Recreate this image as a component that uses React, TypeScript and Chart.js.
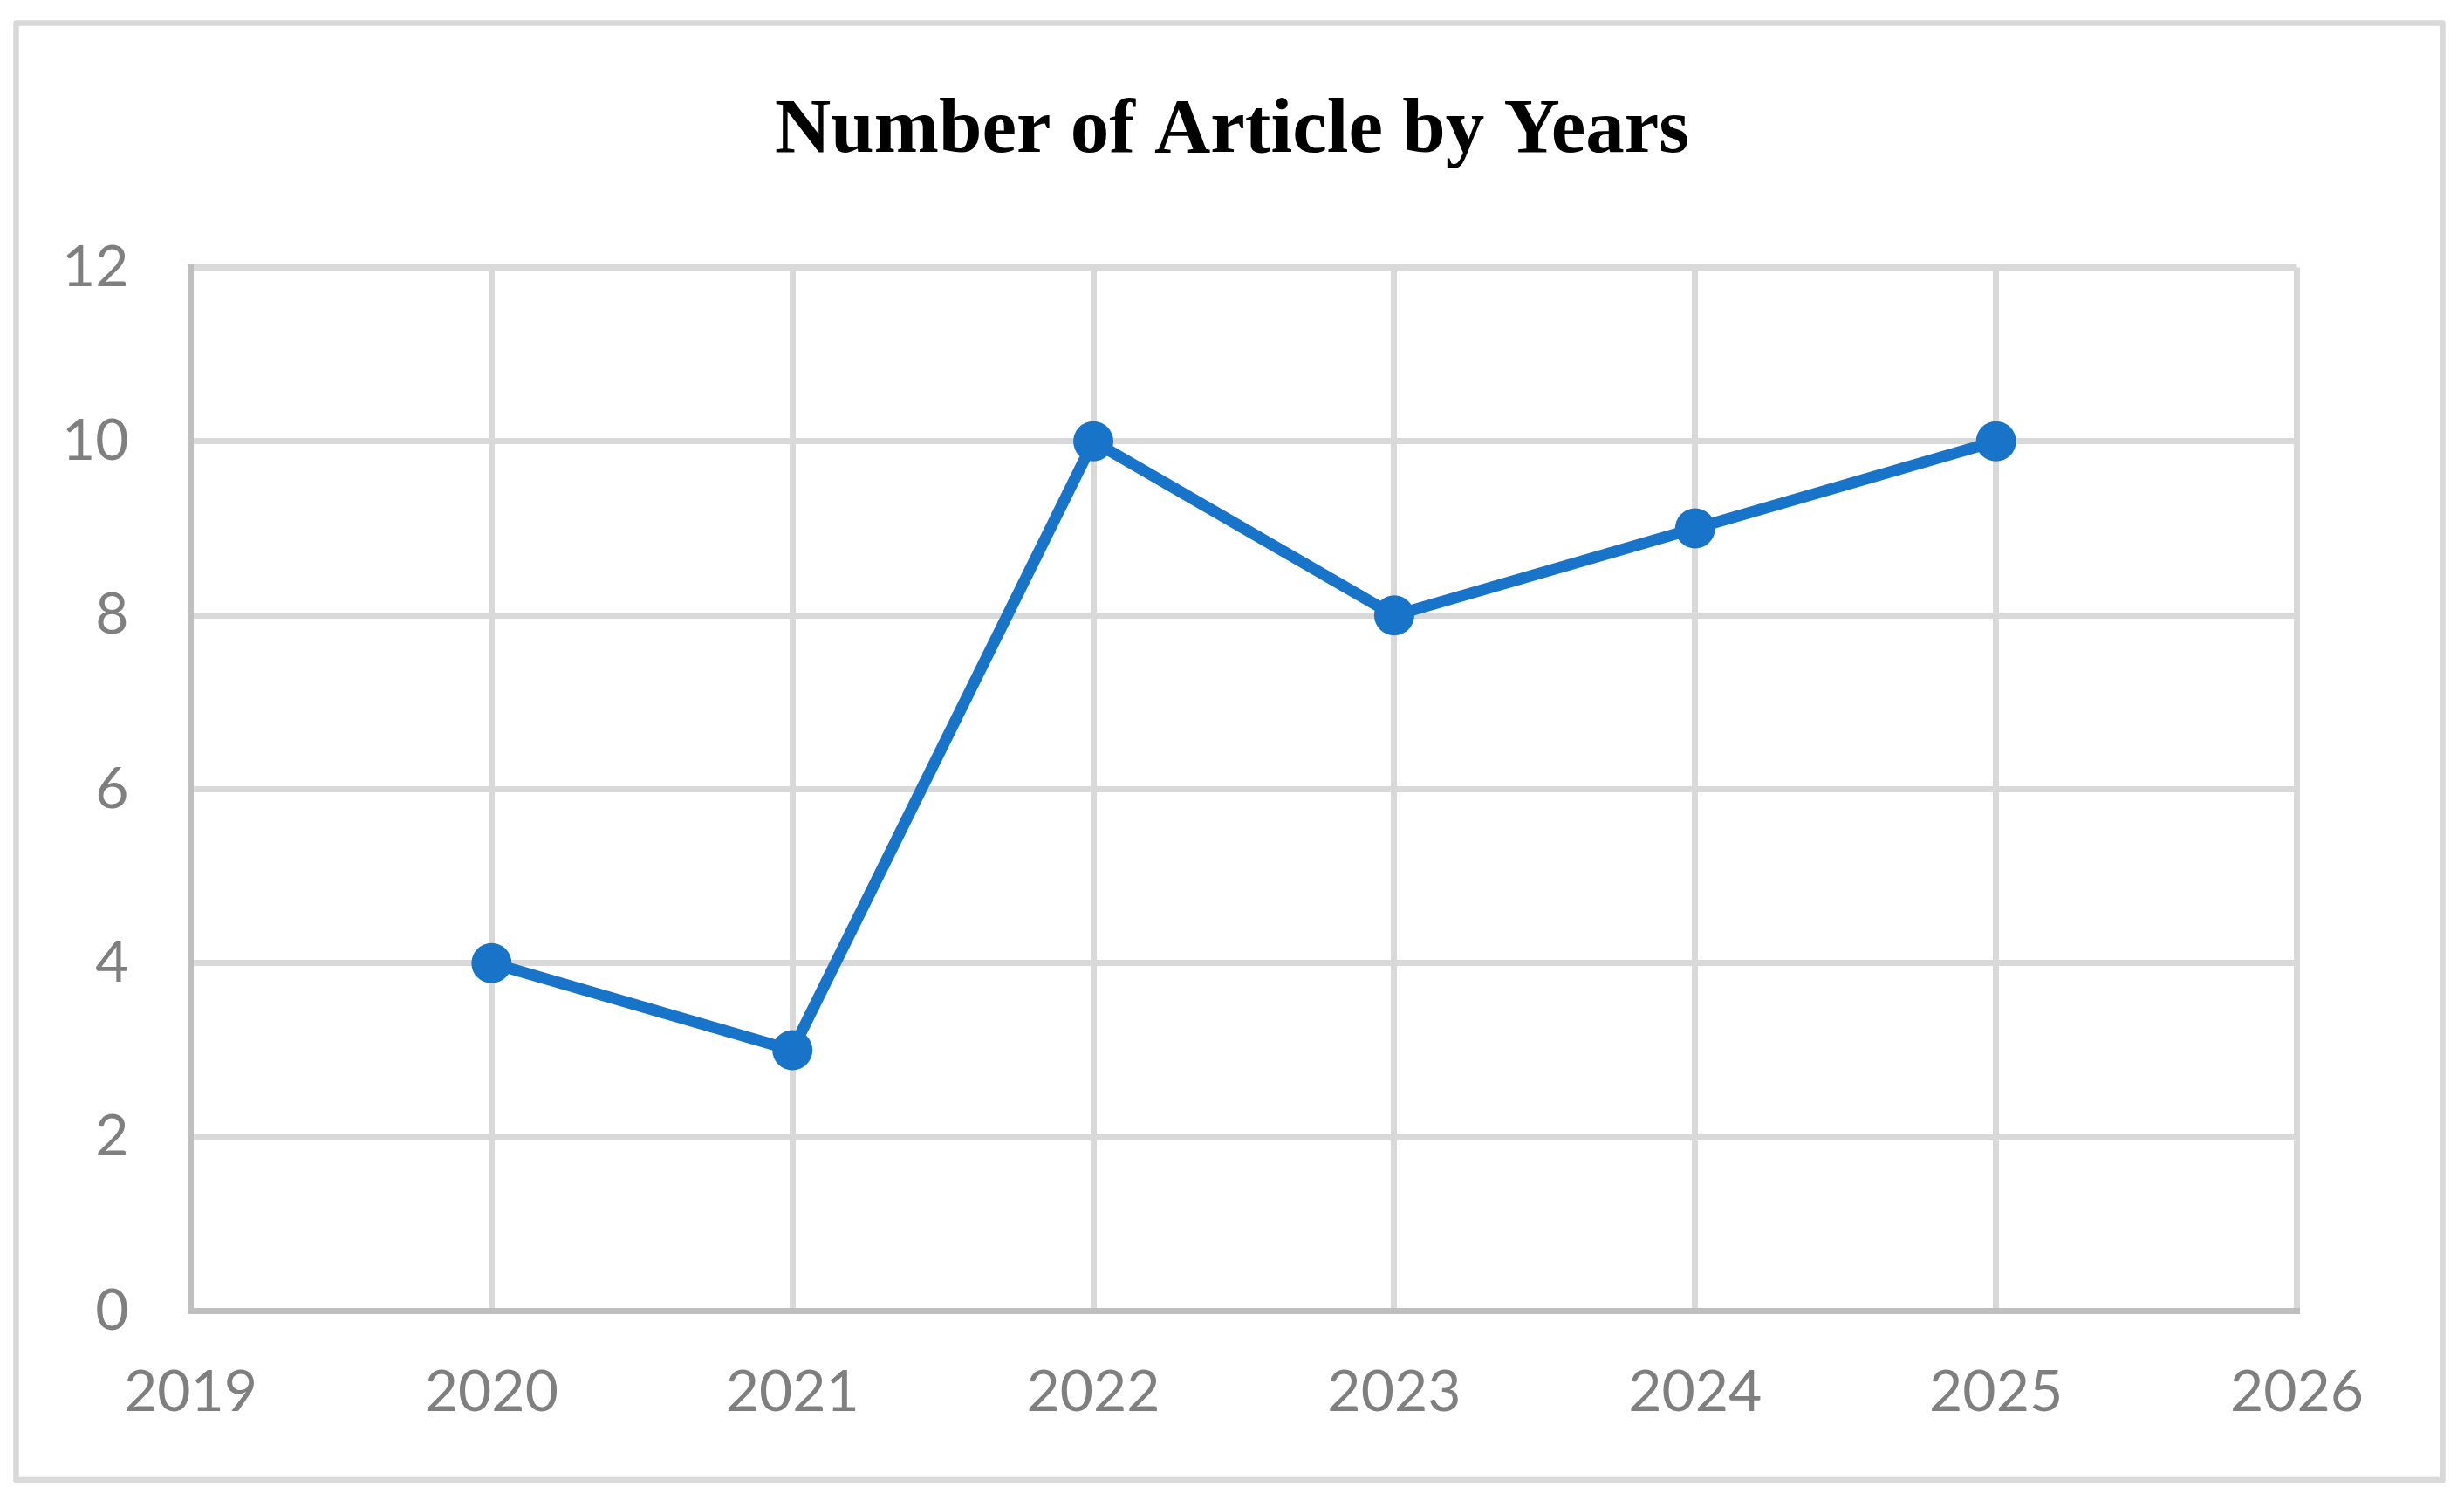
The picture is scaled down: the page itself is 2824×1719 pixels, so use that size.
import React, { useEffect, useRef } from "react";
import { Chart, registerables } from "chart.js";

Chart.register(...registerables);

const TITLE = "Number of Article by Years";
const years = [2020, 2021, 2022, 2023, 2024, 2025];
const articles = [4, 3, 10, 8, 9, 10];
const xRange = [2019, 2026];
const yRange = [0, 12];
const yStep = 2;

const W = 2824;
const H = 1719;

const frame = {
  id: "frame",
  beforeDraw(chart: any) {
    const ctx = chart.ctx;
    ctx.save();
    ctx.fillStyle = "#ffffff";
    ctx.fillRect(0, 0, chart.width, chart.height);
    ctx.strokeStyle = "#d9d9d9";
    ctx.lineWidth = 6.5;
    ctx.lineJoin = "round";
    ctx.strokeRect(18.5, 26.5, 2799.5 - 18.5, 1696 - 26.5);
    ctx.restore();
  },
};

export default function App() {
  const ref = useRef<HTMLCanvasElement>(null);
  useEffect(() => {
    if (!ref.current) return;
    const chart = new Chart(ref.current, {
      type: "line",
      data: {
        datasets: [
          {
            label: "Articles",
            data: years.map((y, i) => ({ x: y, y: articles[i] })),
            borderColor: "#1874C8",
            backgroundColor: "#1874C8",
            borderWidth: 13,
            pointRadius: 23,
            pointHoverRadius: 23,
            pointBackgroundColor: "#1874C8",
            pointBorderWidth: 0,
            tension: 0,
            yAxisID: "y",
          },
        ],
      },
      options: {
        responsive: false,
        animation: false,
        events: [],
        layout: { padding: { left: 18, right: 18, top: 0, bottom: 66.5 } },
        plugins: {
          legend: { display: false },
          tooltip: { enabled: false },
          title: {
            display: true,
            text: TITLE,
            color: "#000000",
            font: { family: "'Liberation Serif', serif", size: 89, weight: "bold", lineHeight: 1.2 },
            padding: { top: 98, bottom: 101.7 },
          },
        },
        scales: {
          x: {
            type: "linear",
            min: xRange[0],
            max: xRange[1],
            afterFit: (s: any) => {
              s.height = 150;
            },
            ticks: {
              stepSize: 1,
              color: "#7f7f7f",
              padding: 54,
              maxRotation: 0,
              font: { family: "Lato", size: 66 },
              callback: (v: any) => String(v),
            },
            grid: { color: "#d9d9d9", lineWidth: 7, drawTicks: false },
            border: { display: true, color: "#bfbfbf", width: 7 },
          },
          y: {
            position: "left",
            min: yRange[0],
            max: yRange[1],
            afterFit: (s: any) => {
              s.width = 200.5;
            },
            ticks: {
              stepSize: yStep,
              color: "#7f7f7f",
              padding: 71,
              font: { family: "Lato", size: 66 },
            },
            grid: { color: "#d9d9d9", lineWidth: 7, drawTicks: false },
            border: { display: true, color: "#bfbfbf", width: 7 },
          },
          yRight: {
            position: "right",
            min: yRange[0],
            max: yRange[1],
            afterFit: (s: any) => {
              s.width = 173.5;
            },
            ticks: { display: false },
            grid: { display: false },
            border: { display: false },
          },
        },
      },
      plugins: [frame],
    });
    return () => chart.destroy();
  }, []);
  return (
    <div style={{ position: "absolute", left: 0, top: 0, width: W, height: H }}>
      <canvas ref={ref} width={W} height={H} style={{ display: "block" }} />
    </div>
  );
}
